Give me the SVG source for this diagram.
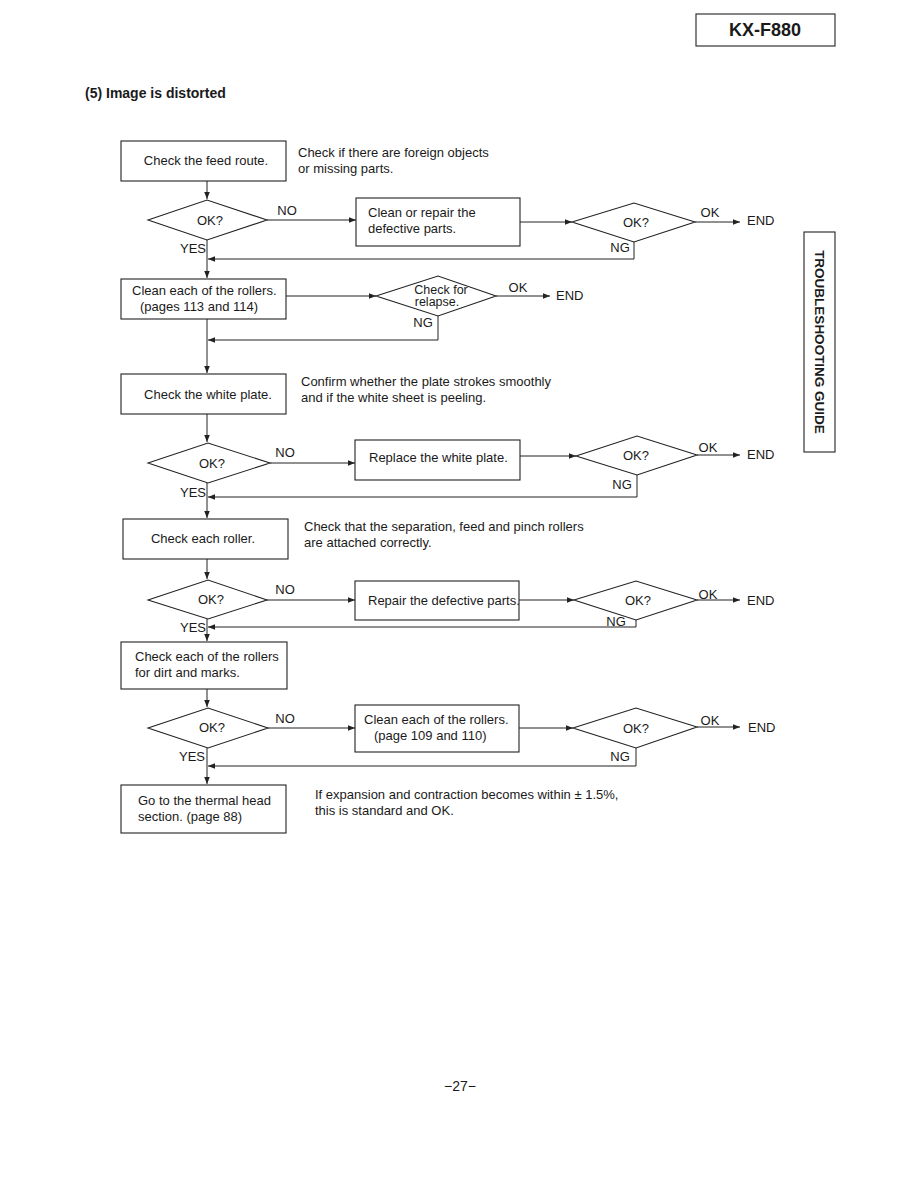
<svg xmlns="http://www.w3.org/2000/svg" width="918" height="1188" viewBox="0 0 918 1188">
<style>
text{font-family:"Liberation Sans",Arial,sans-serif;font-size:13px;fill:#1a1a1a}
.b{fill:#fff;stroke:#222;stroke-width:1.1}
.l{fill:none;stroke:#222;stroke-width:1}
.m{text-anchor:middle}
.h{font-weight:bold}
</style>
<defs>
<marker id="a" viewBox="0 0 10 10" refX="10" refY="5" markerWidth="7" markerHeight="7" orient="auto" markerUnits="userSpaceOnUse">
<path d="M0,1 L10,5 L0,9 z" fill="#222"/>
</marker>
</defs>
<rect width="918" height="1188" fill="#fff"/>
<g id="header">
<rect x="696" y="14" width="139" height="32" class="b"/>
<text x="765" y="36" class="m h" style="font-size:18px">KX-F880</text>
<text x="85" y="98" class="h" style="font-size:14px">(5) Image is distorted</text>
</g>
<g id="tab">
<rect x="804" y="232" width="31" height="220" class="b"/>
<text transform="translate(815,342) rotate(90)" class="m h" style="font-size:13.5px">TROUBLESHOOTING GUIDE</text>
</g>
<g id="connectors">
<path class="l" d="M207,181 V199" marker-end="url(#a)"/>
<path class="l" d="M267,220 H356" marker-end="url(#a)"/>
<path class="l" d="M520,222 H572" marker-end="url(#a)"/>
<path class="l" d="M695,222 H740" marker-end="url(#a)"/>
<path class="l" d="M634,242 V259 H208" marker-end="url(#a)"/>
<path class="l" d="M207,240 V278" marker-end="url(#a)"/>
<path class="l" d="M286,296 H376" marker-end="url(#a)"/>
<path class="l" d="M496,296 H550" marker-end="url(#a)"/>
<path class="l" d="M438,316 V340 H208" marker-end="url(#a)"/>
<path class="l" d="M207,319 V373" marker-end="url(#a)"/>
<path class="l" d="M207,414 V442" marker-end="url(#a)"/>
<path class="l" d="M270,463 H355" marker-end="url(#a)"/>
<path class="l" d="M520,456 H576" marker-end="url(#a)"/>
<path class="l" d="M697,455 H740" marker-end="url(#a)"/>
<path class="l" d="M637,475 V497 H208" marker-end="url(#a)"/>
<path class="l" d="M207,483 V518" marker-end="url(#a)"/>
<path class="l" d="M207,559 V579" marker-end="url(#a)"/>
<path class="l" d="M267,600 H355" marker-end="url(#a)"/>
<path class="l" d="M519,600 H574" marker-end="url(#a)"/>
<path class="l" d="M697,600 H740" marker-end="url(#a)"/>
<path class="l" d="M636,620 V627 H208" marker-end="url(#a)"/>
<path class="l" d="M207,619 V641" marker-end="url(#a)"/>
<path class="l" d="M207,689 V707" marker-end="url(#a)"/>
<path class="l" d="M268,728 H355" marker-end="url(#a)"/>
<path class="l" d="M519,728 H573" marker-end="url(#a)"/>
<path class="l" d="M697,727 H740" marker-end="url(#a)"/>
<path class="l" d="M636,748 V766 H208" marker-end="url(#a)"/>
<path class="l" d="M207,748 V784" marker-end="url(#a)"/>
<text x="287" y="215" class="m">NO</text>
<text x="710" y="217" class="m">OK</text>
<text x="747" y="225">END</text>
<text x="620" y="252" class="m">NG</text>
<text x="193" y="253" class="m">YES</text>
<text x="518" y="292" class="m">OK</text>
<text x="556" y="300">END</text>
<text x="423" y="327" class="m">NG</text>
<text x="285" y="457" class="m">NO</text>
<text x="708" y="452" class="m">OK</text>
<text x="747" y="459">END</text>
<text x="622" y="489" class="m">NG</text>
<text x="193" y="497" class="m">YES</text>
<text x="285" y="594" class="m">NO</text>
<text x="708" y="599" class="m">OK</text>
<text x="747" y="605">END</text>
<text x="616" y="626" class="m">NG</text>
<text x="193" y="632" class="m">YES</text>
<text x="285" y="723" class="m">NO</text>
<text x="710" y="725" class="m">OK</text>
<text x="748" y="732">END</text>
<text x="620" y="761" class="m">NG</text>
<text x="192" y="761" class="m">YES</text>
</g>
<g id="n1"><rect x="121" y="141" width="165" height="40" class="b"/><text x="206" y="165" class="m">Check the feed route.</text></g>
<g id="note1"><text x="298" y="157">Check if there are foreign objects</text><text x="298" y="173">or missing parts.</text></g>
<g id="d1"><path d="M148,220 L207,200 L267,220 L207,240 z" class="b"/><text x="210" y="225" class="m">OK?</text></g>
<g id="n2"><rect x="356" y="198" width="164" height="48" class="b"/><text x="368" y="217">Clean or repair the</text><text x="368" y="233">defective parts.</text></g>
<g id="d2"><path d="M572,222 L634,203 L695,222 L634,242 z" class="b"/><text x="636" y="227" class="m">OK?</text></g>
<g id="n3"><rect x="121" y="279" width="165" height="40" class="b"/><text x="132" y="295">Clean each of the rollers.</text><text x="140" y="311">(pages 113 and  114)</text></g>
<g id="d3"><path d="M376,296 L438,276 L496,296 L438,316 z" class="b"/><text x="441" y="294" class="m" style="font-size:12.5px">Check for</text><text x="437" y="306" class="m" style="font-size:12.5px">relapse.</text></g>
<g id="n4"><rect x="121" y="374" width="165" height="40" class="b"/><text x="208" y="399" class="m">Check the white plate.</text></g>
<g id="note2"><text x="301" y="386">Confirm whether the plate strokes smoothly</text><text x="301" y="402">and if the white sheet is peeling.</text></g>
<g id="d4"><path d="M148,463 L208,443 L270,463 L208,483 z" class="b"/><text x="212" y="468" class="m">OK?</text></g>
<g id="n5"><rect x="355" y="440" width="165" height="40" class="b"/><text x="369" y="462">Replace the white plate.</text></g>
<g id="d5"><path d="M576,456 L637,436 L697,455 L637,475 z" class="b"/><text x="636" y="460" class="m">OK?</text></g>
<g id="n6"><rect x="123" y="519" width="165" height="40" class="b"/><text x="203" y="543" class="m">Check each roller.</text></g>
<g id="note3"><text x="304" y="531">Check that the separation, feed and pinch rollers</text><text x="304" y="547">are attached correctly.</text></g>
<g id="d6"><path d="M148,600 L208,580 L267,600 L208,619 z" class="b"/><text x="211" y="604" class="m">OK?</text></g>
<g id="n7"><rect x="355" y="581" width="164" height="39" class="b"/><text x="368" y="605">Repair the defective parts.</text></g>
<g id="d7"><path d="M574,600 L636,581 L697,600 L636,620 z" class="b"/><text x="638" y="605" class="m">OK?</text></g>
<g id="n8"><rect x="121" y="642" width="166" height="47" class="b"/><text x="135" y="661">Check each of the rollers</text><text x="135" y="677">for dirt and marks.</text></g>
<g id="d8"><path d="M148,728 L208,708 L268,728 L208,748 z" class="b"/><text x="212" y="732" class="m">OK?</text></g>
<g id="n9"><rect x="355" y="705" width="164" height="47" class="b"/><text x="364" y="724">Clean each of the rollers.</text><text x="374" y="740">(page 109 and 110)</text></g>
<g id="d9"><path d="M573,728 L636,708 L697,727 L636,748 z" class="b"/><text x="636" y="733" class="m">OK?</text></g>
<g id="n10"><rect x="121" y="785" width="165" height="48" class="b"/><text x="138" y="805">Go to the thermal head</text><text x="138" y="821">section. (page 88)</text></g>
<g id="note4"><text x="315" y="799">If expansion and contraction becomes within ±  1.5%,</text><text x="315" y="815">this is standard and OK.</text></g>
<g id="footer"><text x="460" y="1091" class="m" style="font-size:14px">−27−</text></g>
</svg>
